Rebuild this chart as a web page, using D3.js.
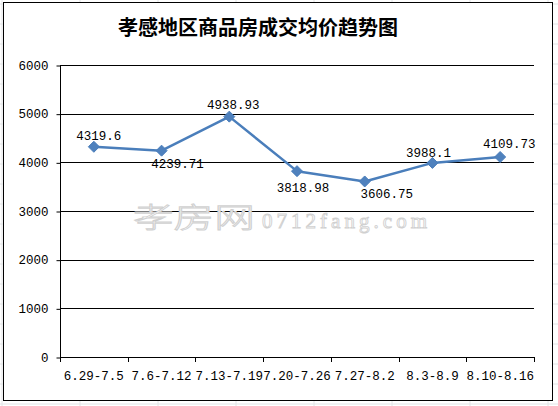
<!DOCTYPE html>
<html><head><meta charset="utf-8">
<script src="https://cdn.jsdelivr.net/npm/d3@7"></script>
<style>body{margin:0;background:#fff}svg{display:block}</style>
</head><body>
<svg id="c" width="558" height="406"></svg>
<script>
const title = "孝感地区商品房成交均价趋势图";
const categories = ["6.29-7.5","7.6-7.12","7.13-7.19","7.20-7.26","7.27-8.2","8.3-8.9","8.10-8.16"];
const prices = [4319.6, 4239.71, 4938.93, 3818.98, 3606.75, 3988.1, 4109.73];
const priceLabels = ["4319.6","4239.71","4938.93","3818.98","3606.75","3988.1","4109.73"];
const yTicks = [0,1000,2000,3000,4000,5000,6000];
// label placement relative to the point (style config)
const labelPlacement = [[5,-11],[16,13],[4,-12],[6,16],[22,12],[-4,-10],[9,-13]];

const svg = d3.select("#c");
const W = 558, H = 406;

// Excel cell grid in background
const bg = svg.append("g");
for (let x = 2; x < W; x += 78) bg.append("line").attr("x1",x).attr("x2",x).attr("y1",0).attr("y2",H).attr("stroke","#e2e4e6");
for (let y = 4; y < H; y += 20) bg.append("line").attr("x1",0).attr("x2",W).attr("y1",y).attr("y2",y).attr("stroke","#e2e4e6");

// chart box
svg.append("rect").attr("x",3.5).attr("y",2.5).attr("width",549).attr("height",398)
  .attr("fill","#fff").attr("stroke","#000").attr("stroke-width",1);

svg.append("text").attr("x",258).attr("y",35).attr("text-anchor","middle")
  .attr("font-family","'Noto Sans CJK SC'").attr("font-weight","bold")
  .attr("font-size",20).attr("fill","#000").text(title);

const x = d3.scaleBand().domain(categories).range([60,534]);
const y = d3.scaleLinear().domain([0,6000]).range([357,65]);

const mono = "'Liberation Mono', monospace";

// gridlines
svg.append("g").selectAll("line").data(yTicks.filter(d=>d>0)).join("line")
  .attr("x1",60).attr("x2",534).attr("y1",d=>Math.round(y(d))+0.5).attr("y2",d=>Math.round(y(d))+0.5)
  .attr("stroke","#000").attr("stroke-width",1);

// watermark
const wm = svg.append("g").attr("fill","#fff").attr("stroke","#d0d0d0").attr("stroke-width",0.9);
wm.append("text").attr("transform","translate(133,228) scale(1.45,1)")
  .attr("font-family","'Noto Sans CJK SC'").attr("font-weight",300).attr("font-size",28).text("孝房网");
wm.append("text").attr("x",262).attr("y",228).attr("textLength",165)
  .attr("font-family","'Liberation Serif', serif").attr("font-size",21).text("0712fang.com");

// y axis
const yAxis = d3.axisLeft(y).tickValues(yTicks).tickSize(4).tickPadding(8).tickFormat(d3.format("d"));
const ya = svg.append("g").attr("transform","translate(60.5,0)").call(yAxis);
ya.selectAll("line").attr("stroke","#000").attr("transform","translate(0,0.5)");
ya.select(".domain").attr("stroke","#000").attr("d","M0,65V357.5");
ya.selectAll("text").attr("font-family",mono).attr("font-size",12.5).attr("fill","#000");

// x axis
const xAxis = d3.axisBottom(x).tickSize(0).tickPadding(0);
const xa = svg.append("g").attr("transform","translate(0,357.5)").call(xAxis);
xa.select(".domain").attr("stroke","#000").attr("d","M60,0H534");
xa.selectAll(".tick text").attr("font-family",mono).attr("font-size",12.5).attr("fill","#000").attr("dy",null).attr("y",22);
const bounds = categories.map(c=>x(c)).concat([x.range()[1]]);
svg.append("g").selectAll("line").data(bounds).join("line")
  .attr("x1",d=>Math.round(d)+0.5).attr("x2",d=>Math.round(d)+0.5).attr("y1",357).attr("y2",362)
  .attr("stroke","#000");

// line
const cx = (d,i)=>x(categories[i])+x.bandwidth()/2;
svg.append("path").datum(prices)
  .attr("d",d3.line().x(cx).y(d=>y(d)))
  .attr("fill","none").attr("stroke","#4a7ebb").attr("stroke-width",2.5).attr("stroke-linejoin","round");

svg.append("g").selectAll("path").data(prices).join("path")
  .attr("d","M0,-5.5L5.5,0L0,5.5L-5.5,0Z")
  .attr("transform",(d,i)=>`translate(${cx(d,i)},${y(d)})`)
  .attr("fill","#4f81bd").attr("stroke","#4a7ebb").attr("stroke-width",1);

svg.append("g").selectAll("text").data(prices).join("text")
  .attr("x",(d,i)=>cx(d,i)+labelPlacement[i][0])
  .attr("y",(d,i)=>y(d)+labelPlacement[i][1])
  .attr("dy","0.35em").attr("text-anchor","middle")
  .attr("font-family",mono).attr("font-size",12.5).attr("fill","#000")
  .text((d,i)=>priceLabels[i]);
</script>
</body></html>
